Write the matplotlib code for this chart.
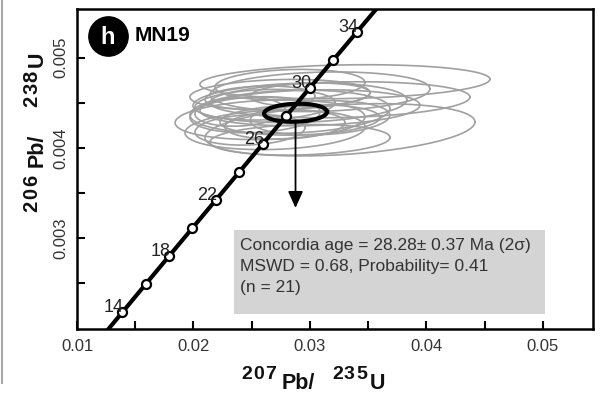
import numpy as np
import matplotlib
matplotlib.use("Agg")
import matplotlib.pyplot as plt
from matplotlib.patches import Rectangle
from matplotlib.lines import Line2D
from matplotlib.transforms import IdentityTransform

plt.rcParams['font.family'] = ['Liberation Sans', 'DejaVu Sans']

# concordia (ages in Ma) - ratios
ages = [14, 16, 18, 20, 22, 24, 26, 28, 30, 32, 34]
pb207_u235 = [0.013883, 0.015882, 0.017885, 0.019892, 0.021903, 0.023918,
              0.025937, 0.027960, 0.029986, 0.032017, 0.034052]
pb206_u238 = [0.0021741, 0.0024851, 0.0027961, 0.0031073, 0.0034186, 0.0037299,
              0.0040414, 0.0043529, 0.0046646, 0.0049763, 0.0052882]
labelled_ages = [14, 18, 22, 26, 30, 34]
# curve ends beyond the marked ages (12 and 36 Ma)
curve_x = [0.011888] + pb207_u235 + [0.036091]
curve_y = [0.0018632] + pb206_u238 + [0.0056001]

# single-grain error ellipses: centre x, centre y, half-width x, half-height y, rho
ell_cx = [0.03300, 0.032575, 0.032575, 0.03086, 0.03000, 0.02914, 0.02828,
          0.02657, 0.02742, 0.02700, 0.02914, 0.02614, 0.02528, 0.02828,
          0.03000, 0.02485, 0.02785, 0.02399, 0.03086, 0.02914, 0.02571]
ell_cy = [0.004733, 0.004200, 0.004533, 0.004622, 0.004444, 0.004500, 0.004400,
          0.004311, 0.004589, 0.004200, 0.004311, 0.004478, 0.004367, 0.004700,
          0.004589, 0.004200, 0.004256, 0.004400, 0.004333, 0.004089, 0.004556]
ell_sx = [0.01245, 0.01159, 0.01116, 0.00944, 0.00944, 0.00918, 0.00858,
          0.00815, 0.00773, 0.00773, 0.00687, 0.00601, 0.00558, 0.00644,
          0.00515, 0.00472, 0.00515, 0.00386, 0.00600, 0.00773, 0.00472]
ell_sy = [0.000189, 0.000290, 0.000200, 0.000220, 0.000200, 0.000220, 0.000240,
          0.000220, 0.000170, 0.000220, 0.000170, 0.000170, 0.000200, 0.000170,
          0.000130, 0.000170, 0.000160, 0.000160, 0.000190, 0.000170, 0.000130]
ell_rho = [0.15, 0.3, 0.15, 0.15, 0.15, 0.15, 0.15, 0.15, 0.15, 0.15, 0.15,
           0.15, 0.15, 0.15, 0.15, 0.15, 0.15, 0.15, 0.15, 0.15, 0.15]

# concordia age ellipse
age_cx, age_cy, age_sx, age_sy, age_rho = 0.02876, 0.004389, 0.00270, 0.000100, 0.1

fig = plt.figure(figsize=(6.03, 3.93), dpi=100)
ax = fig.add_axes([0.1277, 0.1628, 0.8557, 0.8143])

t = np.linspace(0, 2 * np.pi, 200)


def ellipse_xy(cx, cy, sx, sy, rho):
    x = cx + sx * np.cos(t)
    y = cy + sy * (rho * np.cos(t) + np.sqrt(1 - rho ** 2) * np.sin(t))
    return x, y


for i in range(len(ell_cx)):
    ex, ey = ellipse_xy(ell_cx[i], ell_cy[i], ell_sx[i], ell_sy[i], ell_rho[i])
    ax.plot(ex, ey, color='#a0a0a0', lw=1.2, zorder=2)

ax.plot(curve_x, curve_y, color='black', lw=3, zorder=3, solid_capstyle='butt')
ax.plot(pb207_u235, pb206_u238, 'o', ms=6.5, mfc='white', mec='black', mew=1.6, zorder=4)

for a, xv, yv in zip(ages, pb207_u235, pb206_u238):
    if a in labelled_ages:
        ax.annotate(str(a), (xv, yv), xytext=(1, 0), textcoords='offset points',
                    ha='right', va='baseline', fontsize=13, color='#222222', zorder=5)

ex, ey = ellipse_xy(age_cx, age_cy, age_sx, age_sy, age_rho)
ax.plot(ex, ey, color='black', lw=3, zorder=6)

ax.annotate('', xy=(age_cx, 0.003333), xytext=(age_cx, age_cy - age_sy),
            arrowprops=dict(arrowstyle='-|>,head_length=1.0,head_width=0.45',
                            color='black', lw=1.3, shrinkA=0, shrinkB=0), zorder=6)

ax.set_xlim(0.01, 0.0543)
ax.set_ylim(0.00199, 0.00554)
ax.set_xticks([0.01, 0.02, 0.03, 0.04, 0.05])
ax.set_xticklabels(['0.01', '0.02', '0.03', '0.04', '0.05'])
ax.set_xticks([0.015, 0.025, 0.035, 0.045], minor=True)
ax.set_yticks([0.003, 0.004, 0.005])
ax.set_yticklabels(['0.003', '0.004', '0.005'], rotation=90, va='center')
ax.set_yticks([0.0025, 0.0035, 0.0045], minor=True)
ax.tick_params(which='both', direction='in', length=6, width=1.5, labelsize=12,
               labelcolor='#333333')
ax.tick_params(axis='x', pad=7)
ax.tick_params(axis='y', pad=6)
for s in ax.spines.values():
    s.set_linewidth(1.8)

# axis titles built from pieces so the isotope numbers can be large, spaced superscripts
# (start px along the title, baseline px, text, size, advance per char or 0)
H = 393
x_title = [(241, 379, '207', 14, 12), (282, 389, 'Pb/', 15.5, 0),
           (332, 379, '235', 14, 12), (370, 389, 'U', 15.5, 0)]
y_title = [(212, 37, '206', 14.5, 13), (167, 43, 'Pb/', 15.5, 0),
           (107, 37, '238', 14.5, 12.5), (67, 43, 'U', 15.5, 0)]
px = IdentityTransform()
for xp, yb, txt, fs, adv in x_title:
    parts = list(txt) if adv else [txt]
    for j, p in enumerate(parts):
        fig.text(xp + j * adv, H - yb, p, transform=px, fontsize=fs, fontweight='bold',
                 ha='left', va='baseline', color='#111111')
for yp, xb, txt, fs, adv in y_title:
    parts = list(txt) if adv else [txt]
    for j, p in enumerate(parts):
        fig.text(xb, H - yp + j * adv, p, transform=px, fontsize=fs, fontweight='bold',
                 ha='left', va='baseline', rotation=90, rotation_mode='anchor',
                 color='#111111')

# result box
ax.add_patch(Rectangle((0.304, 0.047), 0.603, 0.262, transform=ax.transAxes,
                       facecolor='#d4d4d4', edgecolor='none', zorder=7))
box_lines = ['Concordia age = 28.28\u00b1 0.37 Ma (2\u03c3)',
             'MSWD = 0.68, Probability= 0.41',
             '(n = 21)']
for k, line in enumerate(box_lines):
    ax.text(0.316, 0.2625 - k * 0.067, line, transform=ax.transAxes, fontsize=12.5,
            color='#333333', va='center', ha='left', zorder=8)

# panel badge
ax.scatter([0.060], [0.916], s=800, color='black', transform=ax.transAxes, zorder=9,
           clip_on=False)
ax.text(0.060, 0.912, 'h', transform=ax.transAxes, color='white', fontsize=17,
        fontweight='bold', ha='center', va='center', zorder=10)
ax.text(0.112, 0.916, 'MN19', transform=ax.transAxes, color='black', fontsize=15,
        fontweight='bold', ha='left', va='center', zorder=10)

fig.add_artist(Line2D([0.004, 0.004], [0.025, 1.0], transform=fig.transFigure,
                      color='#a8a8a8', lw=1.5))

fig.savefig('out.png', dpi=100)
